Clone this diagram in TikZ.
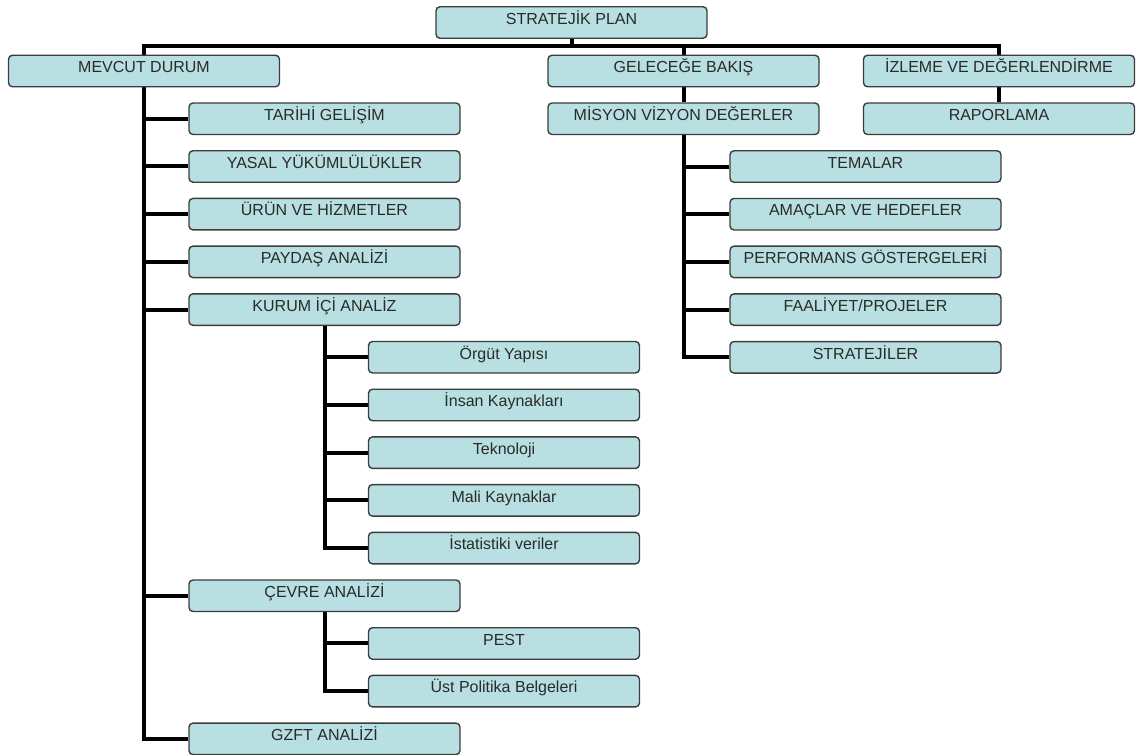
\documentclass[tikz,border=0pt]{standalone}
\usepackage{fontspec}
\setmainfont{Liberation Sans}
\usetikzlibrary{backgrounds}
\definecolor{boxfill}{HTML}{B8DFE2}
\definecolor{boxborder}{HTML}{3C3C3C}
\definecolor{textcol}{HTML}{2A2A2A}
\begin{document}
\begin{tikzpicture}[x=1pt,y=-1pt,
  box/.style={draw=boxborder, line width=1.4pt, fill=boxfill, rounded corners=4pt,
    minimum width=271pt, minimum height=31.5pt, inner sep=0pt,
    text height=12pt, text depth=8.5pt, font=\fontsize{16}{19}\selectfont, text=textcol},
  conn/.style={line width=4pt, draw=black}]
\useasboundingbox (0,0) rectangle (1136,755);
\coordinate (bar) at (0,46);
% top level
\node[box] (sp)  at (571.5,22.5) {STRATEJİK PLAN};
\node[box] (md)  at (144,71) {MEVCUT DURUM};
\node[box] (gb)  at (683.5,71) {GELECEĞE BAKIŞ};
\node[box] (iz)  at (999,71) {İZLEME VE DEĞERLENDİRME};
\node[box] (mvd) at (683.5,118.75) {MİSYON VİZYON DEĞERLER};
\node[box] (rap) at (999,118.75) {RAPORLAMA};
% mevcut durum children
\node[box] (th) at (324.5,118.75) {TARİHİ GELİŞİM};
\node[box] (ys) at (324.5,166.45) {YASAL YÜKÜMLÜLÜKLER};
\node[box] (ur) at (324.5,214.15) {ÜRÜN VE HİZMETLER};
\node[box] (pd) at (324.5,261.85) {PAYDAŞ ANALİZİ};
\node[box] (ku) at (324.5,309.55) {KURUM İÇİ ANALİZ};
\node[box] (og) at (504,357.25) {Örgüt Yapısı};
\node[box] (ik) at (504,404.95) {İnsan Kaynakları};
\node[box] (tk) at (504,452.65) {Teknoloji};
\node[box] (mk) at (504,500.35) {Mali Kaynaklar};
\node[box] (is) at (504,548.05) {İstatistiki veriler};
\node[box] (cv) at (324.5,595.75) {ÇEVRE ANALİZİ};
\node[box] (pe) at (504,643.45) {PEST};
\node[box] (up) at (504,691.15) {Üst Politika Belgeleri};
\node[box] (gz) at (324.5,738.85) {GZFT ANALİZİ};
% misyon children
\node[box] (tm) at (865.5,166.5) {TEMALAR};
\node[box] (ah) at (865.5,214.2) {AMAÇLAR VE HEDEFLER};
\node[box] (pg) at (865.5,261.9) {PERFORMANS GÖSTERGELERİ};
\node[box] (fp) at (865.5,309.6) {FAALİYET/PROJELER};
\node[box] (st) at (865.5,357.3) {STRATEJİLER};
\begin{scope}[on background layer]
\draw[conn] (sp.south) -- (sp.south |- bar);
\draw[conn] (md.north) -- (md.north |- bar) -- (iz.north |- bar) -- (iz.north);
\draw[conn] (gb.north) -- (gb.north |- bar);
\draw[conn] (gb.south) -- (mvd.north);
\draw[conn] (iz.south) -- (rap.north);
\draw[conn] (md.south) |- (gz.west);
\foreach \t in {th,ys,ur,pd,ku,cv} \draw[conn] (md.south |- \t.west) -- (\t.west);
\draw[conn] (ku.south) |- (is.west);
\foreach \t in {og,ik,tk,mk} \draw[conn] (ku.south |- \t.west) -- (\t.west);
\draw[conn] (cv.south) |- (up.west);
\draw[conn] (cv.south |- pe.west) -- (pe.west);
\draw[conn] (mvd.south) |- (st.west);
\foreach \t in {tm,ah,pg,fp} \draw[conn] (mvd.south |- \t.west) -- (\t.west);
\end{scope}
\end{tikzpicture}
\end{document}
